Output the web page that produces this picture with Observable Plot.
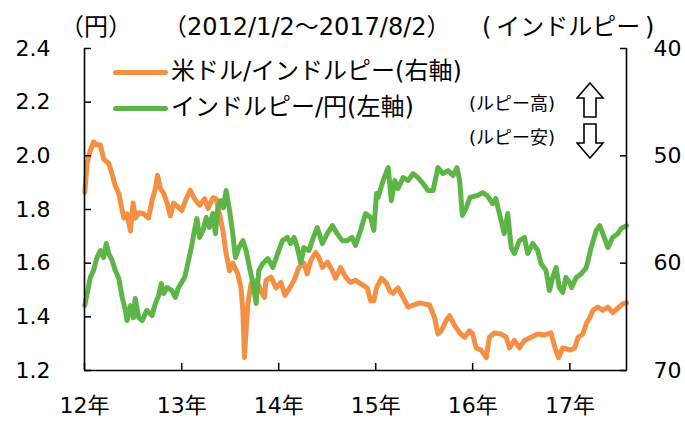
<!DOCTYPE html>
<html>
<head>
<meta charset="utf-8">
<script src="https://cdn.jsdelivr.net/npm/d3@7"></script>
<script src="https://cdn.jsdelivr.net/npm/@observablehq/plot@0.6"></script>
<style>
  html, body { margin: 0; padding: 0; background: #fff; }
  #wrap { position: relative; width: 685px; height: 421px; font-family: "DejaVu Sans", "Noto Sans CJK JP", sans-serif; color: #000; }
  #wrap svg { position: absolute; left: 0; top: 0; }
  .lbl { position: absolute; white-space: nowrap; line-height: 1; }
  .sw { position: absolute; height: 5px; border-radius: 3px; }
</style>
</head>
<body>
<div id="wrap">
  <div class="lbl" style="left:60px; top:15px; font-size:24px;">（円）</div>
  <div class="lbl" style="left:163px; top:15px; font-size:24px;">（2012/1/2～2017/8/2）</div>
  <div class="lbl" style="left:482px; top:15px; font-size:24px;">(&#8201;インドルピー&#8201;)</div>
  <div class="sw" style="left:113px; top:70px; width:55px; background:#F39043;"></div>
  <div class="lbl" style="left:171px; top:59px; font-size:24px;">米ドル/インドルピー(右軸)</div>
  <div class="sw" style="left:113px; top:106px; width:55px; background:#5DB548;"></div>
  <div class="lbl" style="left:171px; top:95px; font-size:24px;">インドルピー/円(左軸)</div>
  <div class="lbl" style="left:469px; top:95px; font-size:18px;">(ルピー高)</div>
  <div class="lbl" style="left:469px; top:129px; font-size:18px;">(ルピー安)</div>
  <svg style="left:576px; top:82px;" width="30" height="38" viewBox="0 0 30 38">
    <polygon points="14,1 27,16 20,16 20,35 8,35 8,16 1,16" fill="#fff" stroke="#000" stroke-width="1.6" stroke-linejoin="miter"/>
  </svg>
  <svg style="left:576px; top:122px;" width="30" height="38" viewBox="0 0 30 38">
    <polygon points="14,36 27,21 20,21 20,2 8,2 8,21 1,21" fill="#fff" stroke="#000" stroke-width="1.6" stroke-linejoin="miter"/>
  </svg>
</div>
<script>
// 米ドル/インドルピー (right axis, inverted)
const usdDates = ["2012-01-02","2012-01-11","2012-01-23","2012-02-04","2012-02-17","2012-03-01","2012-03-13","2012-04-01","2012-04-14","2012-04-26","2012-05-09","2012-05-22","2012-05-28","2012-06-09","2012-06-22","2012-07-02","2012-07-10","2012-07-23","2012-08-11","2012-08-29","2012-09-11","2012-09-24","2012-10-02","2012-10-12","2012-10-25","2012-11-07","2012-11-19","2012-12-01","2012-12-20","2013-01-01","2013-01-18","2013-02-02","2013-02-18","2013-03-09","2013-03-28","2013-04-10","2013-04-28","2013-05-11","2013-05-23","2013-06-05","2013-06-17","2013-06-30","2013-07-12","2013-07-31","2013-08-12","2013-08-19","2013-08-25","2013-08-31","2013-09-07","2013-09-19","2013-10-08","2013-10-27","2013-11-08","2013-11-14","2013-12-03","2013-12-22","2014-01-09","2014-01-25","2014-02-09","2014-02-28","2014-03-18","2014-04-06","2014-04-18","2014-05-01","2014-05-20","2014-06-02","2014-06-14","2014-07-03","2014-07-22","2014-08-03","2014-08-22","2014-09-10","2014-09-29","2014-10-17","2014-11-05","2014-11-30","2014-12-13","2014-12-25","2015-01-04","2015-01-23","2015-02-11","2015-02-23","2015-03-07","2015-03-26","2015-04-14","2015-05-03","2015-05-22","2015-06-16","2015-07-04","2015-07-23","2015-08-11","2015-08-23","2015-09-05","2015-09-24","2015-10-06","2015-10-25","2015-11-13","2015-12-02","2015-12-20","2016-01-01","2016-01-14","2016-02-02","2016-02-21","2016-03-04","2016-03-23","2016-04-17","2016-05-06","2016-05-19","2016-06-06","2016-06-25","2016-07-14","2016-08-08","2016-09-02","2016-09-27","2016-10-22","2016-11-06","2016-11-19","2016-12-05","2016-12-23","2017-01-01","2017-01-19","2017-02-01","2017-02-19","2017-03-04","2017-03-16","2017-03-29","2017-04-16","2017-05-05","2017-05-24","2017-06-11","2017-06-30","2017-07-19","2017-08-02"];
const usdValues = [53.4,50.7,49.5,48.7,49.0,49.0,50.3,50.7,51.7,52.8,53.5,55.1,55.8,55.4,57.0,54.4,55.8,55.3,55.4,55.8,54.2,53.0,51.8,53.0,53.5,54.4,55.6,54.4,54.8,55.1,54.0,53.2,54.0,54.6,54.0,54.9,53.9,54.0,55.4,57.0,59.1,60.7,60.0,61.0,62.3,64.4,68.8,66.3,63.8,61.9,61.6,62.6,63.2,61.6,61.3,62.3,61.8,63.0,62.4,61.6,60.4,60.0,61.0,59.8,59.0,59.5,60.4,59.9,60.7,61.4,60.4,61.3,61.8,61.6,61.9,62.3,63.5,63.5,62.3,61.4,61.9,62.6,62.8,62.3,63.2,64.1,63.9,63.7,63.8,63.9,65.1,66.6,66.3,65.3,64.9,65.8,66.5,66.9,66.3,66.6,67.9,68.1,68.8,66.9,66.5,66.6,66.9,67.9,67.2,67.9,67.2,66.9,66.6,66.7,66.5,67.9,68.8,67.9,68.0,68.1,67.9,66.9,66.6,65.6,65.1,64.4,64.1,64.4,64.1,64.6,64.2,63.8,63.7];

// インドルピー/円 (left axis)
const inrDates = ["2012-01-02","2012-01-11","2012-01-23","2012-02-04","2012-02-17","2012-03-01","2012-03-13","2012-03-23","2012-04-01","2012-04-14","2012-04-26","2012-05-09","2012-05-22","2012-06-03","2012-06-09","2012-06-22","2012-07-03","2012-07-10","2012-07-23","2012-08-05","2012-08-23","2012-09-11","2012-09-24","2012-10-06","2012-10-16","2012-10-25","2012-11-07","2012-11-25","2012-12-08","2012-12-20","2013-01-12","2013-01-24","2013-02-06","2013-02-18","2013-02-27","2013-03-09","2013-03-22","2013-04-03","2013-04-15","2013-04-28","2013-05-08","2013-05-17","2013-05-29","2013-06-07","2013-06-17","2013-06-30","2013-07-12","2013-07-22","2013-08-04","2013-08-19","2013-08-31","2013-09-13","2013-09-26","2013-10-08","2013-10-18","2013-11-02","2013-11-21","2013-12-10","2013-12-28","2014-01-15","2014-02-03","2014-02-15","2014-02-28","2014-03-12","2014-03-25","2014-04-06","2014-04-25","2014-05-07","2014-05-26","2014-06-14","2014-07-03","2014-07-22","2014-08-09","2014-08-28","2014-09-16","2014-10-04","2014-10-17","2014-11-05","2014-11-24","2014-12-13","2014-12-25","2015-01-04","2015-01-10","2015-01-29","2015-02-17","2015-03-01","2015-03-14","2015-03-26","2015-04-14","2015-05-03","2015-05-22","2015-06-09","2015-06-28","2015-07-17","2015-08-05","2015-08-23","2015-09-11","2015-09-30","2015-10-19","2015-11-03","2015-11-13","2015-11-23","2015-12-08","2015-12-22","2016-01-19","2016-02-07","2016-02-25","2016-03-16","2016-03-28","2016-04-17","2016-04-29","2016-05-12","2016-05-25","2016-06-06","2016-06-25","2016-07-14","2016-07-26","2016-08-14","2016-09-02","2016-09-14","2016-10-03","2016-10-16","2016-10-28","2016-11-10","2016-11-22","2016-12-05","2016-12-17","2016-12-31","2017-01-07","2017-01-25","2017-02-13","2017-03-04","2017-03-22","2017-04-10","2017-04-23","2017-05-05","2017-05-24","2017-06-11","2017-06-30","2017-07-13","2017-08-02"];
const inrValues = [1.442,1.487,1.547,1.573,1.621,1.647,1.621,1.673,1.636,1.610,1.573,1.543,1.472,1.424,1.386,1.442,1.397,1.468,1.397,1.386,1.424,1.405,1.450,1.479,1.524,1.487,1.509,1.498,1.472,1.509,1.547,1.599,1.658,1.722,1.766,1.696,1.722,1.770,1.733,1.785,1.710,1.807,1.833,1.807,1.871,1.796,1.710,1.621,1.658,1.684,1.647,1.584,1.524,1.450,1.573,1.599,1.617,1.584,1.636,1.684,1.696,1.673,1.696,1.658,1.602,1.658,1.647,1.684,1.733,1.673,1.710,1.740,1.710,1.684,1.684,1.696,1.666,1.722,1.785,1.770,1.722,1.860,1.845,1.908,1.956,1.833,1.908,1.878,1.919,1.908,1.934,1.919,1.897,1.871,1.871,1.956,1.934,1.945,1.927,1.956,1.908,1.778,1.807,1.845,1.852,1.863,1.852,1.822,1.841,1.759,1.710,1.785,1.658,1.636,1.684,1.696,1.636,1.673,1.647,1.599,1.573,1.498,1.547,1.584,1.509,1.491,1.547,1.528,1.509,1.547,1.561,1.584,1.658,1.722,1.740,1.710,1.658,1.696,1.710,1.729,1.740];

// axes
const leftTicks = [1.2, 1.4, 1.6, 1.8, 2.0, 2.2, 2.4];
const rightTicks = [40, 50, 60, 70];
const yearTicks = ["2012-01-01","2013-01-01","2014-01-01","2015-01-01","2016-01-01","2017-01-01"];
const xStart = "2012-01-01", xEnd = "2017-08-02";
const leftDomain = [1.2, 2.4];
const rightDomain = [40, 70]; // inverted: 40 at top

const toLeft = v => leftDomain[1] - (v - rightDomain[0]) * (leftDomain[1] - leftDomain[0]) / (rightDomain[1] - rightDomain[0]);

const usd = usdDates.map((d, i) => ({date: new Date(d), v: usdValues[i]}));
const inr = inrDates.map((d, i) => ({date: new Date(d), v: inrValues[i]}));
const years = yearTicks.map(d => new Date(d));

const plot = Plot.plot({
  width: 685,
  height: 421,
  marginLeft: 84,
  marginRight: 59,
  marginTop: 48,
  marginBottom: 51,
  style: {fontFamily: '"DejaVu Sans", "Noto Sans CJK JP", sans-serif', fontSize: "22px", color: "#000", background: "transparent"},
  x: {type: "utc", domain: [new Date(xStart), new Date(xEnd)], label: null},
  y: {domain: leftDomain, label: null},
  marks: [
    Plot.line(usd, {x: "date", y: d => toLeft(d.v), stroke: "#F39043", strokeWidth: 5, strokeLinejoin: "round", strokeLinecap: "round"}),
    Plot.line(inr, {x: "date", y: "v", stroke: "#5DB548", strokeWidth: 5, strokeLinejoin: "round", strokeLinecap: "round"}),
    Plot.ruleX([new Date(xStart)], {stroke: "#000", strokeWidth: 1.6}),
    Plot.ruleX([new Date(xEnd)], {stroke: "#000", strokeWidth: 1.6}),
    Plot.ruleY([leftDomain[0]], {stroke: "#000", strokeWidth: 1.6}),
    // ticks (inward)
    Plot.axisY({ticks: leftTicks, anchor: "left", tickSize: -7, text: null, label: null, strokeWidth: 1.5}),
    Plot.axisY({ticks: rightTicks.map(toLeft), anchor: "right", tickSize: -7, text: null, label: null, strokeWidth: 1.5}),
    Plot.axisX({ticks: years, anchor: "bottom", tickSize: -7, text: null, label: null, strokeWidth: 1.5}),
    // labels
    Plot.axisY({ticks: leftTicks, anchor: "left", tickSize: 0, tickPadding: 34, tickFormat: d => d.toFixed(1), label: null, fontSize: 22}),
    Plot.axisY({ticks: rightTicks.map(toLeft), anchor: "right", tickSize: 0, tickPadding: 27, tickFormat: (d, i) => String(rightTicks[i]), label: null, fontSize: 22}),
    Plot.axisX({ticks: years, anchor: "bottom", tickSize: 0, tickPadding: 27, tickFormat: d => `${String(d.getUTCFullYear() % 100)}年`, label: null, fontSize: 22})
  ]
});
document.getElementById("wrap").prepend(plot);
</script>
</body>
</html>
